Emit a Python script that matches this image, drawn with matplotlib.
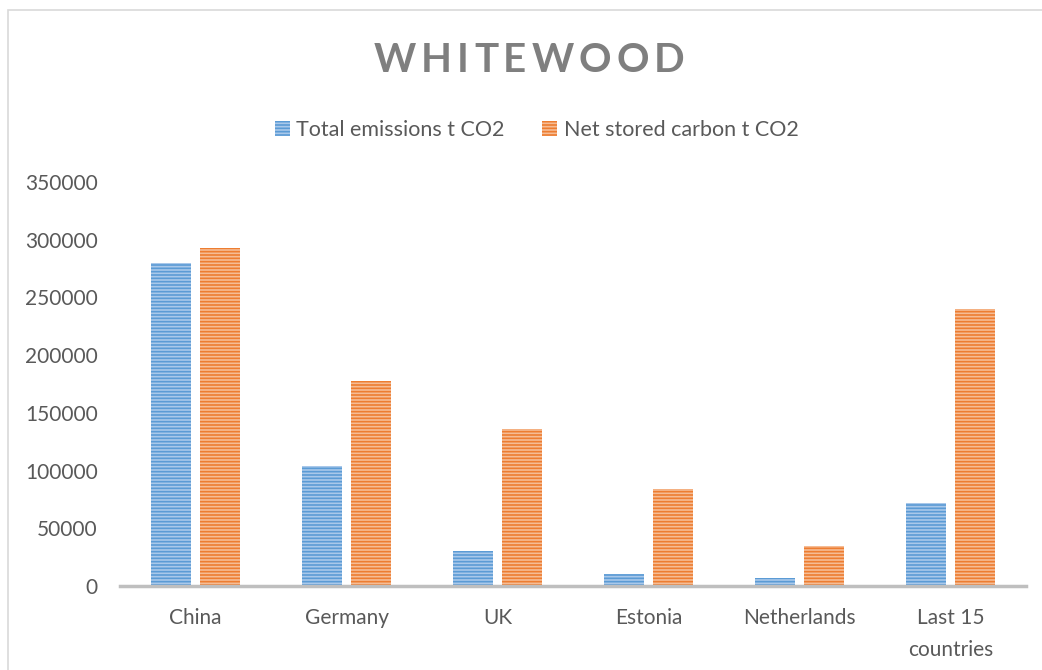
import matplotlib.pyplot as plt
import numpy as np
from matplotlib.patches import Rectangle

# emissions vs stored carbon per country
categories = ['China', 'Germany', 'UK', 'Estonia', 'Netherlands', 'Last 15\ncountries']
total_emissions = [280000, 104000, 30000, 10000, 7000, 72000]
net_stored = [293000, 178000, 136000, 84000, 35000, 240000]
yticks = [0, 50000, 100000, 150000, 200000, 250000, 300000, 350000]
title = 'WHITEWOOD'

plt.rcParams['font.family'] = ['Lato', 'DejaVu Sans']
plt.rcParams['hatch.linewidth'] = 1.2
txt = '#595959'

fig = plt.figure(figsize=(10.42, 6.70), dpi=100)
W, H = 1042, 670
ax = fig.add_axes([120 / W, 1 - 586 / H, (1026 - 120) / W, (586 - 182) / H])

# chart area border
fig.add_artist(Rectangle((8 / W, -0.1), 1.2, 1 - 10 / H + 0.1, transform=fig.transFigure,
                         fill=False, edgecolor='#D9D9D9', linewidth=1.2))

x = np.arange(len(categories))
w = 0.265
ax.bar(x - 0.16, total_emissions, w, color='#A9C8EA', edgecolor='#5B9BD5',
       linewidth=0, hatch='-----', label='Total emissions t CO2', zorder=2)
ax.bar(x + 0.16, net_stored, w, color='#F6BC94', edgecolor='#ED7D31',
       linewidth=0, hatch='-----', label='Net stored carbon t CO2', zorder=2)

ax.set_xlim(-0.5, len(categories) - 0.5)
ax.set_ylim(0, 350000)
ax.set_yticks(yticks)
ax.set_yticklabels([str(v) for v in yticks])
ax.set_xticks(x)
ax.set_xticklabels(categories, linespacing=1.75)
ax.tick_params(axis='y', length=0, pad=16, labelsize=15, labelcolor=txt)
ax.tick_params(axis='x', length=0, pad=16, labelsize=15, labelcolor=txt)
for s in ['top', 'right', 'left']:
    ax.spines[s].set_visible(False)
ax.spines['bottom'].set_color('#BFBFBF')
ax.spines['bottom'].set_linewidth(2.5)
ax.spines['bottom'].set_zorder(3)

# spaced-out title, one letter at a time
r = fig.canvas.get_renderer()
letters = []
for ch in title:
    t = fig.text(0, 1 - 60 / H, ch, ha='left', va='center', fontsize=29,
                 fontweight='bold', color='#7F7F7F')
    letters.append((t, t.get_window_extent(r).width))
gap = 5.0
total = sum(wd for _, wd in letters) + gap * (len(letters) - 1)
xpos = (W - total) / 2 + 8
for t, wd in letters:
    t.set_x(xpos / W)
    xpos += wd + gap

fig.legend(loc='center', bbox_to_anchor=(0.515, 1 - 130 / H), ncol=2, frameon=False,
           fontsize=15.5, labelcolor=txt, handlelength=0.7, handleheight=0.7,
           handletextpad=0.3, columnspacing=1.75)

fig.savefig('out.png', dpi=100)
